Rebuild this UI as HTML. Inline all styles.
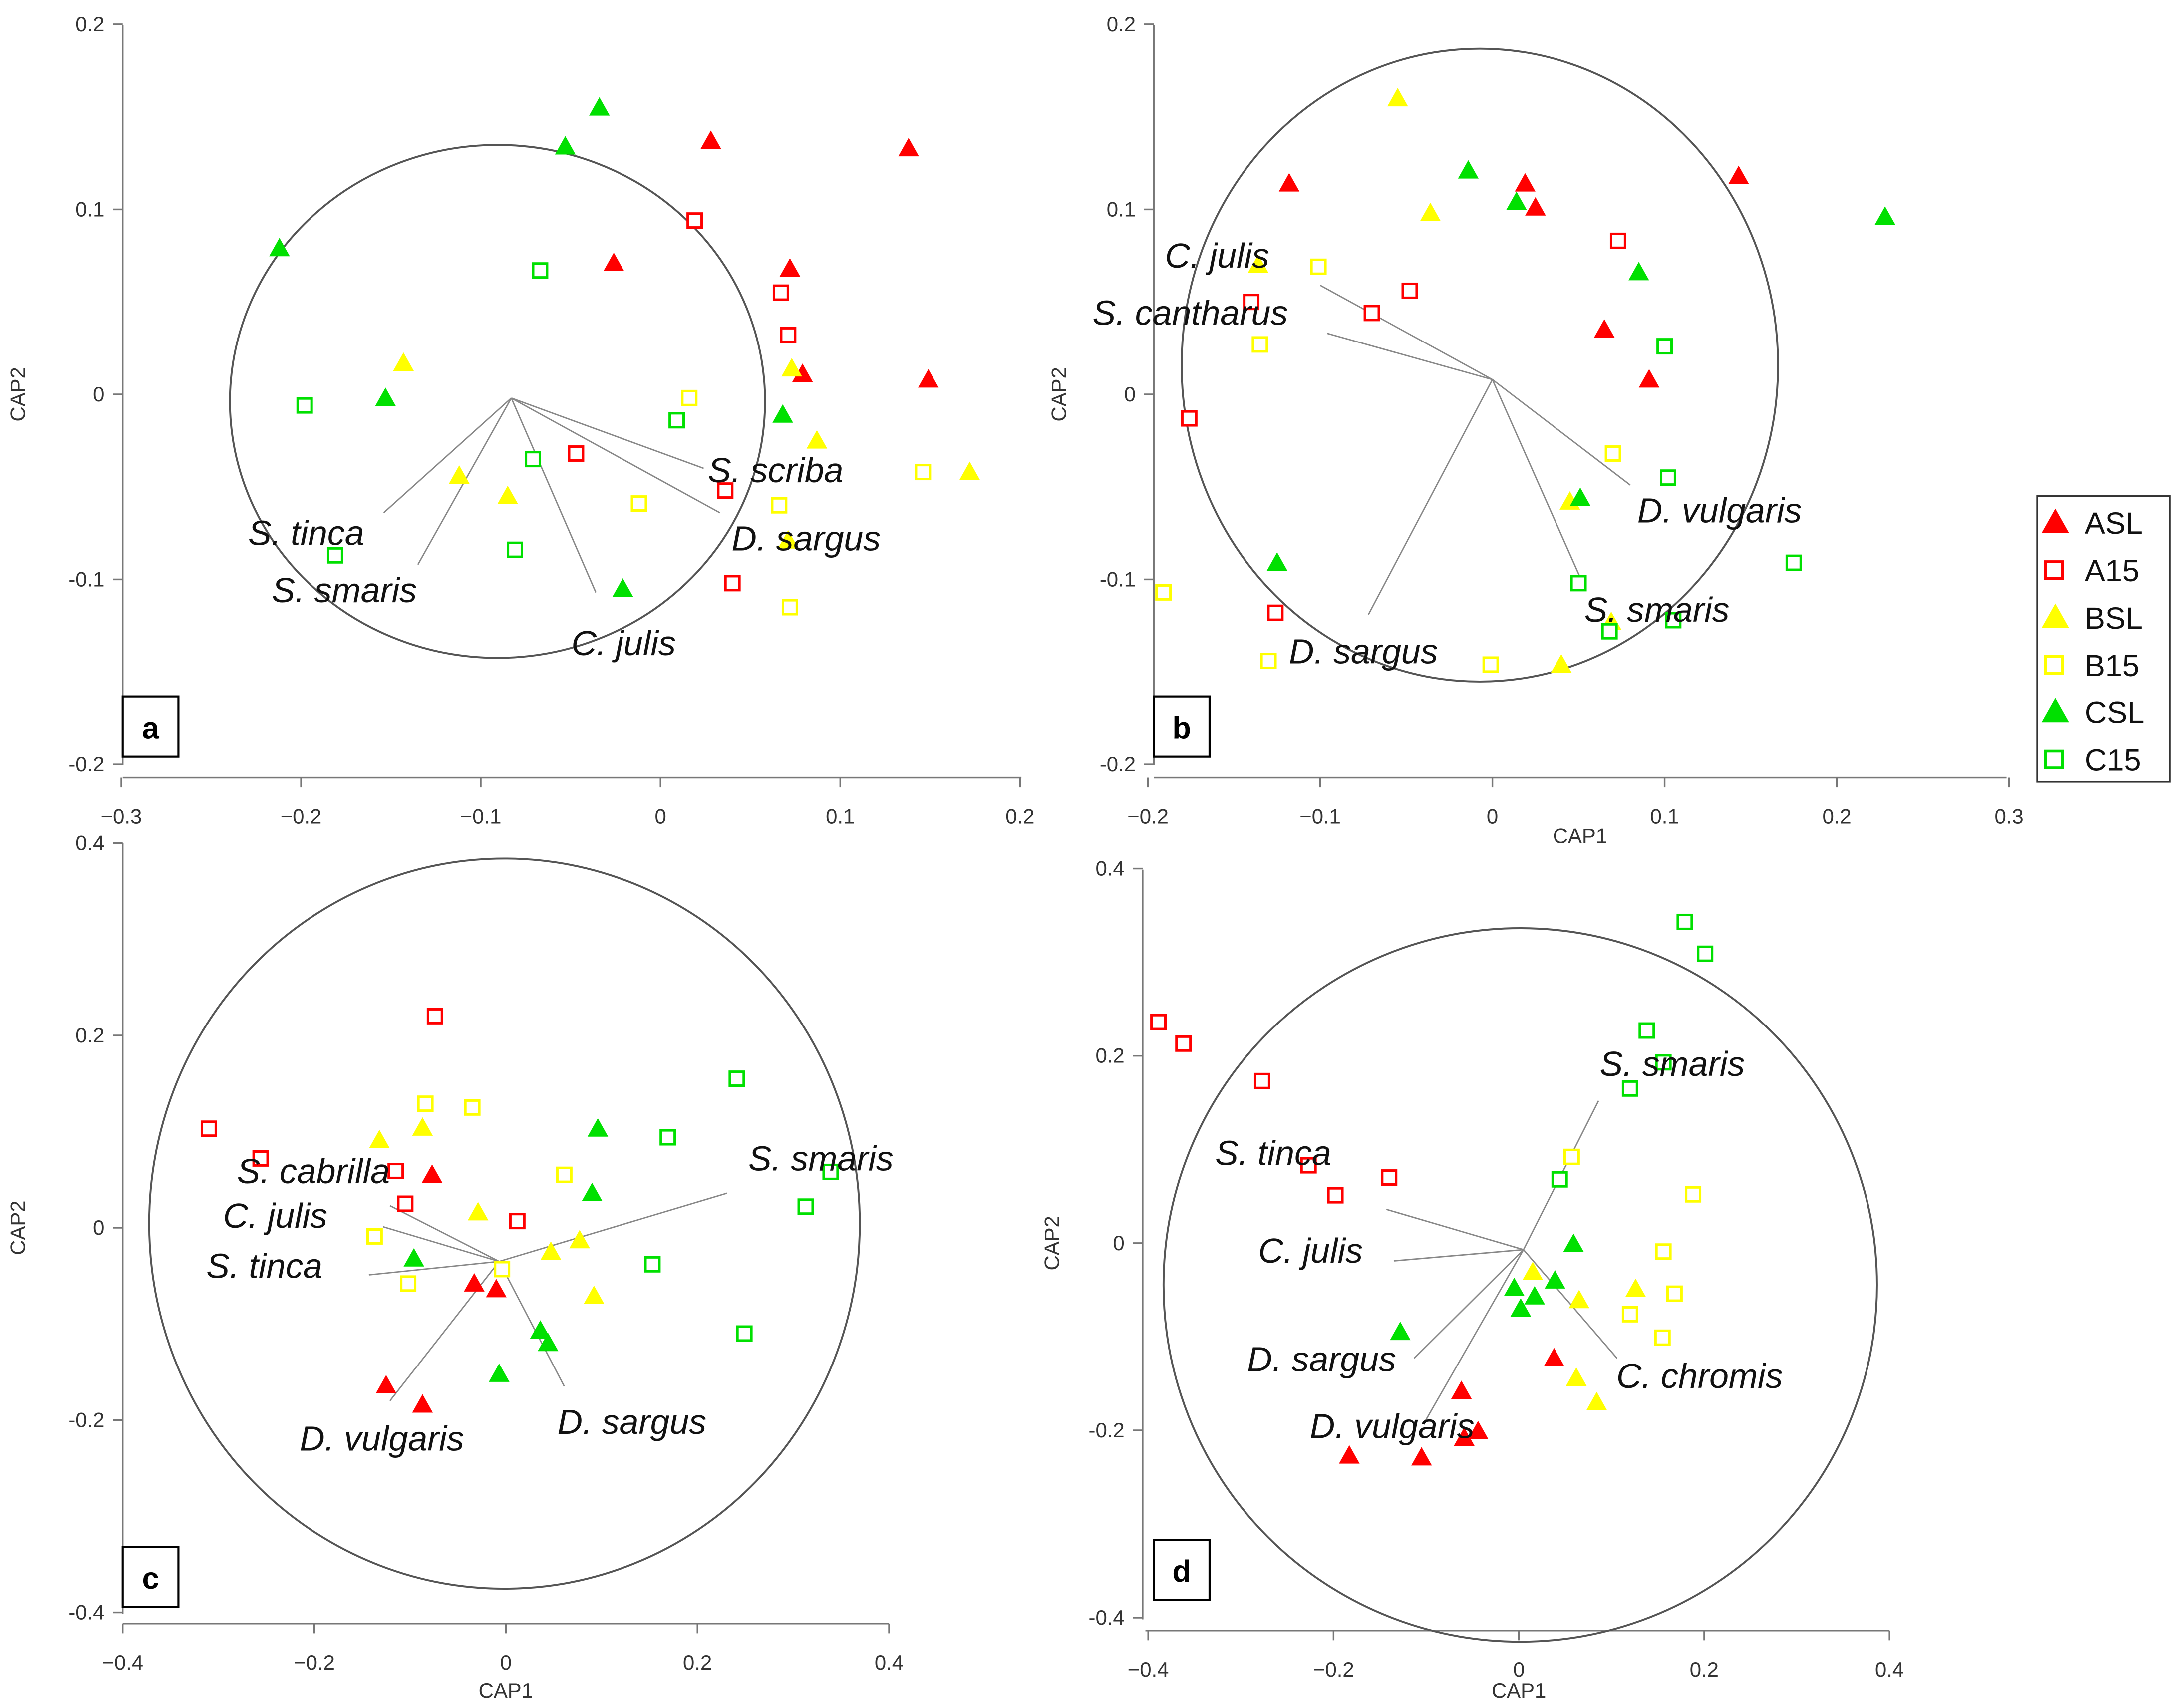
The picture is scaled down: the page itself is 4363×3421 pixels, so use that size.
<!DOCTYPE html>
<html><head><meta charset="utf-8"><style>
html,body{margin:0;padding:0;background:#fff}
svg{display:block}
</style></head><body>
<svg id="chart" width="4363" height="3421" viewBox="0 0 1563 1225.6" xmlns="http://www.w3.org/2000/svg" font-family="Liberation Sans, sans-serif">
<rect width="1563" height="1225.6" fill="#fff"/>
</svg>
<script>
// ---------- data (data units) ----------
const a_ASL=[[0.028,0.137],[0.138,0.133],[-0.026,0.071],[0.072,0.068],[0.079,0.011],[0.149,0.008]];
const a_A15=[[0.019,0.094],[0.067,0.055],[0.071,0.032],[-0.047,-0.032],[0.036,-0.052],[0.040,-0.102]];
const a_BSL=[[-0.143,0.017],[0.073,0.014],[0.087,-0.025],[0.172,-0.042],[-0.112,-0.044],[-0.085,-0.055],[0.071,-0.079]];
const a_B15=[[0.016,-0.002],[-0.012,-0.059],[0.066,-0.060],[0.146,-0.042],[0.072,-0.115]];
const a_CSL=[[-0.034,0.155],[-0.053,0.134],[-0.212,0.079],[-0.153,-0.002],[0.068,-0.011],[-0.021,-0.105]];
const a_C15=[[-0.067,0.067],[-0.198,-0.006],[0.009,-0.014],[-0.071,-0.035],[-0.181,-0.087],[-0.081,-0.084]];
const a_vecOrigin=[-0.083,-0.002];
const a_vecEnds=[[0.024,-0.040],[0.033,-0.064],[-0.036,-0.107],[-0.135,-0.092],[-0.154,-0.064]];

const b_ASL=[[0.143,0.118],[-0.118,0.114],[0.019,0.114],[0.025,0.101],[0.065,0.035],[0.091,0.008]];
const b_A15=[[0.073,0.083],[-0.140,0.050],[-0.048,0.056],[-0.070,0.044],[-0.176,-0.013],[-0.126,-0.118]];
const b_BSL=[[-0.055,0.160],[-0.036,0.098],[-0.136,0.070],[0.045,-0.058],[0.040,-0.146],[0.069,-0.123]];
const b_B15=[[-0.101,0.069],[-0.135,0.027],[0.070,-0.032],[-0.191,-0.107],[-0.130,-0.144],[-0.001,-0.146]];
const b_CSL=[[-0.014,0.121],[0.014,0.104],[0.085,0.066],[0.228,0.096],[0.051,-0.056],[-0.125,-0.091]];
const b_C15=[[0.100,0.026],[0.102,-0.045],[0.175,-0.091],[0.050,-0.102],[0.068,-0.128],[0.105,-0.122]];
const b_vecOrigin=[0,0.008];
const b_vecEnds=[[-0.100,0.059],[-0.096,0.033],[-0.072,-0.119],[0.051,-0.099],[0.080,-0.049]];

const c_ASL=[[-0.077,0.055],[-0.033,-0.058],[-0.010,-0.064],[-0.125,-0.164],[-0.087,-0.184]];
const c_A15=[[-0.074,0.220],[-0.310,0.103],[-0.256,0.072],[-0.115,0.059],[-0.105,0.025],[0.012,0.007]];
const c_BSL=[[-0.132,0.091],[-0.087,0.104],[-0.029,0.016],[0.077,-0.013],[0.047,-0.025],[0.092,-0.071]];
const c_B15=[[-0.084,0.129],[-0.035,0.125],[-0.137,-0.009],[-0.102,-0.058],[-0.004,-0.043],[0.061,0.055]];
const c_CSL=[[0.096,0.103],[0.090,0.036],[-0.096,-0.032],[0.036,-0.107],[0.044,-0.120],[-0.007,-0.152]];
const c_C15=[[0.241,0.155],[0.169,0.094],[0.339,0.058],[0.313,0.022],[0.153,-0.038],[0.249,-0.110]];
const c_vecOrigin=[-0.007,-0.035];
const c_vecEnds=[[0.231,0.036],[-0.121,0.023],[-0.128,0.001],[-0.143,-0.049],[-0.121,-0.180],[0.061,-0.165]];

const d_ASL=[[-0.183,-0.227],[-0.105,-0.229],[-0.062,-0.158],[-0.059,-0.208],[-0.044,-0.201],[0.038,-0.123]];
const d_A15=[[-0.389,0.236],[-0.362,0.213],[-0.277,0.173],[-0.227,0.083],[-0.140,0.070],[-0.198,0.051]];
const d_BSL=[[0.015,-0.031],[0.065,-0.061],[0.126,-0.049],[0.062,-0.144],[0.084,-0.170]];
const d_B15=[[0.057,0.092],[0.188,0.052],[0.156,-0.009],[0.168,-0.054],[0.120,-0.076],[0.155,-0.101]];
const d_CSL=[[0.059,-0.001],[-0.128,-0.095],[-0.005,-0.048],[0.039,-0.040],[0.017,-0.057],[0.002,-0.070]];
const d_C15=[[0.179,0.343],[0.201,0.309],[0.138,0.227],[0.156,0.193],[0.120,0.165],[0.044,0.068]];
const d_vecOrigin=[0.005,-0.007];
const d_vecEnds=[[0.086,0.152],[-0.143,0.036],[-0.135,-0.019],[-0.113,-0.123],[-0.101,-0.190],[0.106,-0.123]];

const a_xTicks=[-0.3,-0.2,-0.1,0,0.1,0.2];
const a_yTicks=[0.2,0.1,0,-0.1,-0.2];
const b_xTicks=[-0.2,-0.1,0,0.1,0.2,0.3];
const b_yTicks=[0.2,0.1,0,-0.1,-0.2];
const c_xTicks=[-0.4,-0.2,0,0.2,0.4];
const c_yTicks=[0.4,0.2,0,-0.2,-0.4];
const d_xTicks=[-0.4,-0.2,0,0.2,0.4];
const d_yTicks=[0.4,0.2,0,-0.2,-0.4];
const groupNames=["ASL","A15","BSL","B15","CSL","C15"];

// ---------- layout ----------
const NS="http://www.w3.org/2000/svg";
const svg=document.getElementById('chart');
function mk(tag,attrs,parent){const e=document.createElementNS(NS,tag);for(const k in attrs)e.setAttribute(k,attrs[k]);(parent||svg).appendChild(e);return e;}
const RED="#ff0000",YEL="#ffff00",GRN="#00e000";
const styles={ASL:["tri",RED],A15:["sq",RED],BSL:["tri",YEL],B15:["sq",YEL],CSL:["tri",GRN],C15:["sq",GRN]};

const panels=[
 {id:"a",x0:474,xs:1290,y0:283,ys:1327.5,axX:88,axYTop:18,axYBot:549,axXy:558,xL:88,xR:733,xT:a_xTicks,yT:a_yTicks,
  groups:{ASL:a_ASL,A15:a_A15,BSL:a_BSL,B15:a_B15,CSL:a_CSL,C15:a_C15},vo:a_vecOrigin,ve:a_vecEnds,
  circ:[357,288,192,184],box:[88,500],cap1:null,cap2:[18,283],
  labels:[["S. scriba",508,346],["D. sargus",525,395],["C. julis",410,470],["S. smaris",195,432],["S. tinca",178,391]]},
 {id:"b",x0:1071,xs:1236,y0:283,ys:1327.5,axX:828,axYTop:18,axYBot:549,axXy:558,xL:828,xR:1440,xT:b_xTicks,yT:b_yTicks,
  groups:{ASL:b_ASL,A15:b_A15,BSL:b_BSL,B15:b_B15,CSL:b_CSL,C15:b_C15},vo:b_vecOrigin,ve:b_vecEnds,
  circ:[1062,262,214,227],box:[828,500],cap1:[1134,605],cap2:[765,283],
  labels:[["C. julis",836,192],["S. cantharus",784,233],["D. sargus",925,476],["S. smaris",1137,446],["D. vulgaris",1175,375]]},
 {id:"c",x0:363,xs:687.5,y0:881,ys:690,axX:88,axYTop:605,axYBot:1158,axXy:1165,xL:88,xR:638,xT:c_xTicks,yT:c_yTicks,
  groups:{ASL:c_ASL,A15:c_A15,BSL:c_BSL,B15:c_B15,CSL:c_CSL,C15:c_C15},vo:c_vecOrigin,ve:c_vecEnds,
  circ:[362,878,255,262],box:[88,1110],cap1:[363,1218],cap2:[18,881],
  labels:[["S. cabrilla",170,849],["C. julis",160,881],["S. tinca",148,917],["S. smaris",537,840],["D. vulgaris",215,1041],["D. sargus",400,1029]]},
 {id:"d",x0:1090,xs:665,y0:892,ys:672,axX:820,axYTop:624,axYBot:1162,axXy:1170,xL:822,xR:1356,xT:d_xTicks,yT:d_yTicks,
  groups:{ASL:d_ASL,A15:d_A15,BSL:d_BSL,B15:d_B15,CSL:d_CSL,C15:d_C15},vo:d_vecOrigin,ve:d_vecEnds,
  circ:[1091,922,256,256],box:[828,1105],cap1:[1090,1218],cap2:[760,892],
  labels:[["S. smaris",1148,772],["S. tinca",872,836],["C. julis",903,906],["D. sargus",895,984],["D. vulgaris",940,1032],["C. chromis",1160,996]]}
];

function marker(type,color,cx,cy,g){
  let e;
  if(type==="tri"){
    e=mk('polygon',{points:`${cx},${cy-7} ${cx+7},${cy+5.5} ${cx-7},${cy+5.5}`,fill:color,stroke:color,'stroke-width':0.5},g);
  } else {
    e=mk('rect',{x:cx-5,y:cy-5,width:10,height:10,fill:'#fff',stroke:color,'stroke-width':1.8},g);
  }
  return e;
}

panels.forEach(p=>{
  const X=v=>p.x0+v*p.xs, Y=v=>p.y0-v*p.ys;
  const g=mk('g',{});
  
  
  // axes
  const ya=mk('line',{x1:p.axX,y1:p.axYTop,x2:p.axX,y2:p.axYBot,stroke:'#777','stroke-width':1.2},g);
  
  
  const xa=mk('line',{x1:p.xL,y1:p.axXy,x2:p.xR,y2:p.axXy,stroke:'#777','stroke-width':1.2},g);
  
  
  p.yT.forEach(t=>{
    const y=Y(t);
    mk('line',{x1:p.axX-7,y1:y,x2:p.axX,y2:y,stroke:'#777','stroke-width':1.2},g);
    const tx=mk('text',{x:p.axX-13,y:y+5,'font-size':15,fill:'#333','text-anchor':'end'},g);
    tx.textContent=(t===0?'0':String(t));
    
    
  });
  p.xT.forEach(t=>{
    const x=X(t);
    mk('line',{x1:x,y1:p.axXy,x2:x,y2:p.axXy+7,stroke:'#777','stroke-width':1.2},g);
    const tx=mk('text',{x:x,y:p.axXy+33,'font-size':15,fill:'#333','text-anchor':'middle'},g);
    tx.textContent=(t===0?'0':String(t).replace('-','\u2212'));
    
    
  });
  if(p.cap1){
    const t=mk('text',{x:p.cap1[0],y:p.cap1[1],'font-size':15,fill:'#333','text-anchor':'middle'},g);
    t.textContent='CAP1';
    
    
  }
  const c2=mk('text',{x:p.cap2[0],y:p.cap2[1],'font-size':15,fill:'#333','text-anchor':'middle',transform:`rotate(-90 ${p.cap2[0]} ${p.cap2[1]})`},g);
  c2.textContent='CAP2';
  
  
  // circle
  const ci=mk('ellipse',{cx:p.circ[0],cy:p.circ[1],rx:p.circ[2],ry:p.circ[3],fill:'none',stroke:'#555','stroke-width':1.4},g);
  
  
  // vectors
  p.ve.forEach(e=>{
    const l=mk('line',{x1:X(p.vo[0]),y1:Y(p.vo[1]),x2:X(e[0]),y2:Y(e[1]),stroke:'#888','stroke-width':1},g);
    
    
  });
  // points
  groupNames.forEach(gn=>{
    const [type,col]=styles[gn];
    p.groups[gn].forEach(pt=>{
      const m=marker(type,col,X(pt[0]),Y(pt[1]),g);
      
      
    });
  });
  // labels
  p.labels.forEach(L=>{
    const t=mk('text',{x:L[1],y:L[2],'font-size':25,'font-style':'italic',fill:'#111'},g);
    t.textContent=L[0];
    
    
  });
  // panel letter box
  const bx=mk('rect',{x:p.box[0],y:p.box[1],width:40,height:43,fill:'#fff',stroke:'#000','stroke-width':1.5},g);
  
  
  const lt=mk('text',{x:p.box[0]+20,y:p.box[1]+30,'font-size':22,'font-weight':'bold','text-anchor':'middle',fill:'#000'},g);
  lt.textContent=p.id;
  
  
});

// legend
const lg=mk('g',{});


mk('rect',{x:1462,y:356,width:95,height:205,fill:'#fff',stroke:'#333','stroke-width':1.2},lg);
groupNames.forEach((gn,i)=>{
  const y=375+i*34;
  const [type,col]=styles[gn];
  const ge=mk('g',{},lg);
  
  
  if(type==="tri") mk('polygon',{points:`1475,${y-9} 1484,${y+7} 1466,${y+7}`,fill:col,stroke:col},ge);
  else mk('rect',{x:1468,y:y-6,width:12,height:12,fill:'#fff',stroke:col,'stroke-width':2},ge);
  const t=mk('text',{x:1496,y:y+8,'font-size':22,fill:'#111'},ge);
  t.textContent=gn;
});
</script>
</body></html>
